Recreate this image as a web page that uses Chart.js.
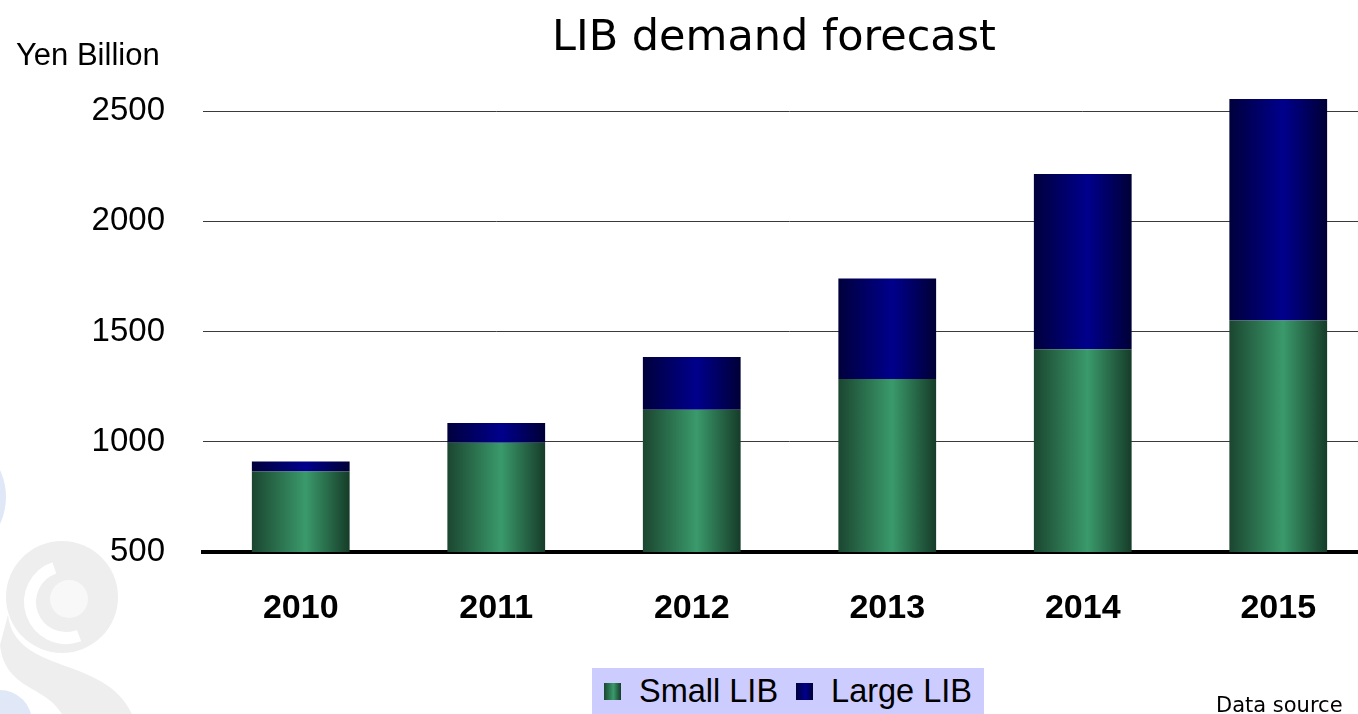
<!DOCTYPE html>
<html>
<head>
<meta charset="utf-8">
<title>LIB demand forecast</title>
<script src="https://cdn.jsdelivr.net/npm/chart.js@4.4.1/dist/chart.umd.min.js"></script>
<style>
  html, body { margin: 0; padding: 0; background: #fff; overflow: hidden; }
  #wrap { position: relative; width: 1358px; height: 714px; overflow: hidden; }
  #chart { position: absolute; left: 0; top: 0; }
  .txt { position: absolute; white-space: nowrap; color: #000; }
  #title { left: 552px; top: 10px; font: 43px "DejaVu Sans", Verdana, sans-serif; }
  #unit { left: 16px; top: 37px; font: 31px Arial, "Liberation Sans", sans-serif; }
  #legend { position: absolute; left: 592px; top: 668px; width: 392px; height: 46px; background: #ccccff;
            display: flex; align-items: center; justify-content: center; gap: 18px;
            font: 32.5px Arial, "Liberation Sans", sans-serif; }
  #legend .item { display: flex; align-items: center; gap: 18px; }
  #legend .sw { width: 17px; height: 17px; flex: 0 0 17px; display: inline-block; }
  #source { left: 1216px; top: 693px; font: 21px "DejaVu Sans", Tahoma, sans-serif; }
</style>
</head>
<body>
<div id="wrap">
  <canvas id="chart" width="1380" height="714"></canvas>
  <div id="title" class="txt">LIB demand forecast</div>
  <div id="unit" class="txt">Yen Billion</div>
  <div id="legend"></div>
  <div id="source" class="txt">Data source</div>
</div>
<script>
// categories and series (Yen Billion)
const years = ['2010', '2011', '2012', '2013', '2014', '2015'];
const smallLib = [865, 995, 1145, 1285, 1420, 1550];
const largeLib = [45, 90, 240, 455, 795, 1005];
const seriesNames = ['Small LIB', 'Large LIB'];
const yTicks = [500, 1000, 1500, 2000, 2500];

// horizontal shading across each bar: dark edges, bright just right of centre
const greenStops = ['#1b4630', '#3a9a6b', '#163c29'];
const navyStops = ['#00003c', '#00008c', '#000036'];

function barGradient(stops) {
    return (ctx) => {
        const chart = ctx.chart;
        const xScale = chart.scales.x;
        if (!chart.chartArea || !xScale || ctx.dataIndex === undefined) return stops[1];
        const cx = xScale.getPixelForValue(ctx.dataIndex);
        const half = (chart.chartArea.width / years.length) * 0.25;
        const g = chart.ctx.createLinearGradient(cx - half, 0, cx + half, 0);
        g.addColorStop(0, stops[0]);
        g.addColorStop(0.55, stops[1]);
        g.addColorStop(1, stops[2]);
        return g;
    };
}

// faint swirl logo behind the plot, lower left
const backdrop = {
    id: 'backdrop',
    beforeDraw(chart) {
        const c = chart.ctx;
        c.save();
        c.fillStyle = '#e0e8f8';
        c.beginPath(); c.arc(-58, 497, 64, 0, Math.PI * 2); c.fill();
        c.beginPath(); c.arc(0, 722, 32, 0, Math.PI * 2); c.fill();

        c.fillStyle = '#eeeeee';
        c.beginPath(); c.arc(62, 597, 56, 0, Math.PI * 2); c.fill();
        c.beginPath();
        c.moveTo(8, 615);
        c.bezierCurveTo(15, 675, 105, 655, 132, 714);
        c.lineTo(62, 714);
        c.bezierCurveTo(45, 685, 5, 690, 0, 645);
        c.closePath(); c.fill();

        c.strokeStyle = '#ffffff';
        c.lineWidth = 12;
        c.beginPath(); c.arc(66, 602, 36, -1.9, 1.2, true); c.stroke();
        c.fillStyle = '#f8f8f8';
        c.beginPath(); c.arc(69, 599, 19, 0, Math.PI * 2); c.fill();
        c.restore();
    }
};

const ctx = document.getElementById('chart').getContext('2d');
new Chart(ctx, {
    type: 'bar',
    data: {
        labels: years,
        datasets: [
            { label: seriesNames[0], data: smallLib, backgroundColor: barGradient(greenStops) },
            { label: seriesNames[1], data: largeLib, backgroundColor: barGradient(navyStops) }
        ]
    },
    options: {
        responsive: false,
        animation: false,
        barPercentage: 0.5,
        categoryPercentage: 1.0,
        layout: { padding: { top: 89, right: 4, left: 0, bottom: 0 } },
        plugins: {
            legend: { display: false },
            tooltip: { enabled: false }
        },
        scales: {
            x: {
                stacked: true,
                grid: { display: false, drawTicks: false },
                border: { display: true, color: '#000', width: 4 },
                ticks: {
                    color: '#000',
                    padding: 36,
                    font: { family: 'Arial, "Liberation Sans", sans-serif', size: 34, weight: 'bold' }
                },
                afterFit: (scale) => { scale.height = 162; }
            },
            y: {
                stacked: true,
                min: 500,
                max: 2600,
                afterBuildTicks: (scale) => { scale.ticks = yTicks.map(v => ({ value: v })); },
                afterFit: (scale) => { scale.width = 203; },
                border: { display: false },
                grid: {
                    drawTicks: false,
                    color: (c) => c.tick && c.tick.value === 500 ? 'rgba(0,0,0,0)' : '#3a3a3a',
                    lineWidth: 1
                },
                ticks: {
                    color: '#000',
                    padding: 38,
                    callback: (v) => String(v),
                    font: { family: 'Arial, "Liberation Sans", sans-serif', size: 33 }
                }
            }
        }
    },
    plugins: [backdrop]
});

// legend swatches share the bar shading
const legendEl = document.getElementById('legend');
[greenStops, navyStops].forEach((stops, i) => {
    const item = document.createElement('span');
    item.className = 'item';
    const sw = document.createElement('span');
    sw.className = 'sw';
    sw.style.background = `linear-gradient(to right, ${stops[0]}, ${stops[1]} 55%, ${stops[2]})`;
    item.appendChild(sw);
    item.appendChild(document.createTextNode(seriesNames[i]));
    legendEl.appendChild(item);
});
</script>
</body>
</html>
